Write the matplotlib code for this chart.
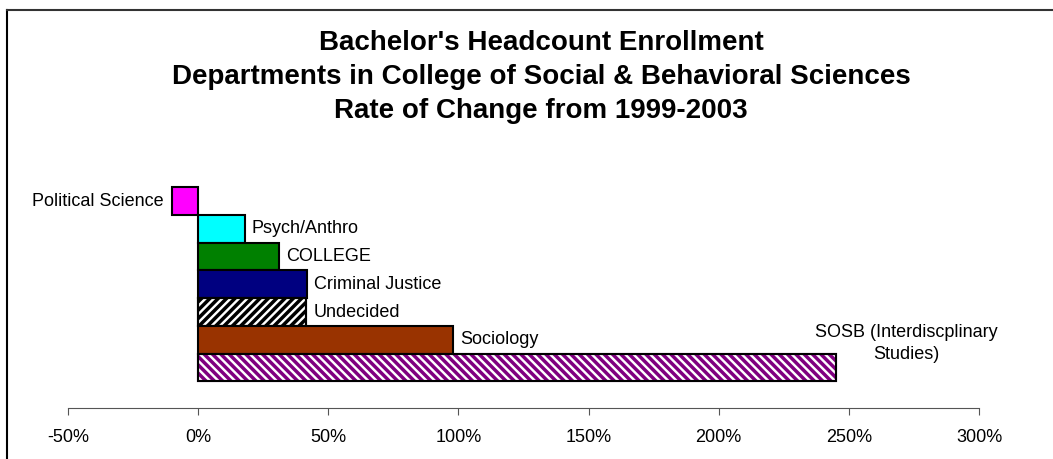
import numpy as np
import matplotlib.pyplot as plt
from matplotlib.lines import Line2D

departments = ['Political Science', 'Psych/Anthro', 'COLLEGE', 'Criminal Justice',
               'Undecided', 'Sociology', 'SOSB (Interdiscplinary\nStudies)']
change_pct = [-10, 18, 31, 42, 41.5, 98, 245]
colors = ['#FF00FF', '#00FFFF', '#008000', '#000080', 'white', '#993300', 'white']
hatch_colors = [None, None, None, None, 'black', None, '#800080']
hatches = [None, None, None, None, '////', None, '\\\\\\\\']
ticks = [-50, 0, 50, 100, 150, 200, 250, 300]

plt.rcParams['font.family'] = ['Liberation Sans', 'DejaVu Sans']
plt.rcParams['hatch.linewidth'] = 2.5

W, H = 1053, 459
fig = plt.figure(figsize=(W / 100, H / 100), dpi=100)

# outer frame (only left and top visible in the original)
fig.add_artist(Line2D([7 / W, 7 / W], [0, 1 - 10 / H], color='black', lw=1.5))
fig.add_artist(Line2D([7 / W, 1], [1 - 10 / H, 1 - 10 / H], color='#333333', lw=1.5))

ax = fig.add_axes([68 / W, (H - 408) / H, (979 - 68) / W, (408 - 150) / H])

y = np.arange(len(departments))
for i, (v, c) in enumerate(zip(change_pct, colors)):
    bar = ax.barh(y[i], v, height=1.0, color=c, edgecolor='black', linewidth=1.5,
                  hatch=hatches[i])
    if hatches[i]:
        bar[0].set_edgecolor(hatch_colors[i])
        ax.barh(y[i], v, height=1.0, fill=False, edgecolor='black', linewidth=1.5)

# data labels
for i, (name, v) in enumerate(zip(departments, change_pct)):
    if v < 0:
        ax.annotate(name, (v, i), xytext=(-8, 0), textcoords='offset pixels',
                    ha='right', va='center', fontsize=13)
    elif i == len(departments) - 1:
        ax.annotate(name, (v, i), xytext=(70, 24), textcoords='offset pixels',
                    ha='center', va='center', fontsize=13, linespacing=1.45)
    else:
        ax.annotate(name, (v, i), xytext=(7, 0), textcoords='offset pixels',
                    ha='left', va='center', fontsize=13)

ax.set_xlim(-50, 300)
ax.set_ylim(7.46, -1.84)
ax.set_xticks(ticks)
ax.set_xticklabels([f'{t}%' for t in ticks], fontsize=13)
ax.set_yticks([])
for s in ['left', 'right', 'top']:
    ax.spines[s].set_visible(False)
ax.spines['bottom'].set_color('#555555')
ax.tick_params(axis='x', direction='out', length=5, color='#555555', pad=10)

fig.text(541 / W, 1 - 77 / H,
         "Bachelor's Headcount Enrollment\n"
         "Departments in College of Social & Behavioral Sciences\n"
         "Rate of Change from 1999-2003",
         ha='center', va='center', fontsize=20, fontweight='bold', linespacing=1.42)

fig.savefig('out.png', dpi=100)
